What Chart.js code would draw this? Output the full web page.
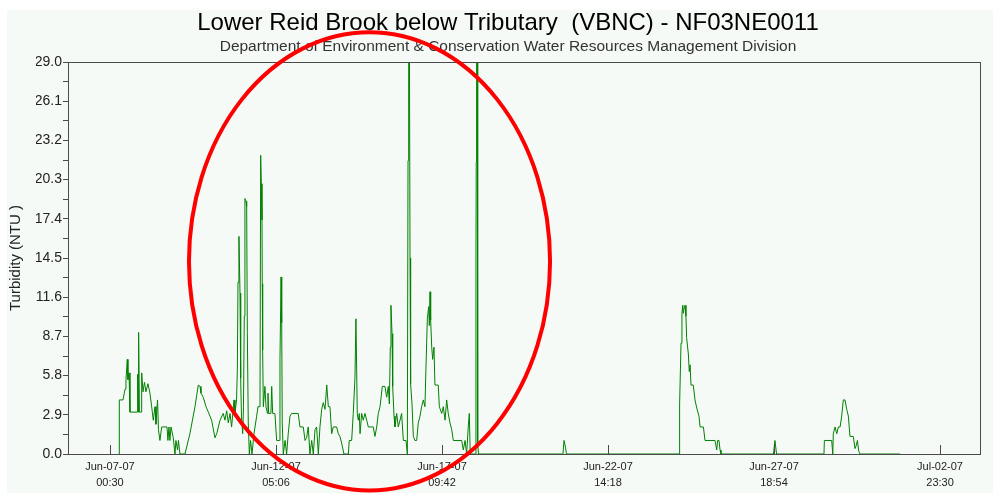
<!DOCTYPE html>
<html>
<head>
<meta charset="utf-8">
<script src="https://cdn.jsdelivr.net/npm/chart.js@4/dist/chart.umd.min.js"></script>
<style>
  html, body { margin: 0; padding: 0; background: #fff; }
  #panel { position: absolute; left: 7px; top: 10px; width: 986px; height: 483px; background: #f5faf6; }
</style>
</head>
<body>
<div id="panel"><canvas id="turbChart"></canvas></div>
<script>
// hours since Jun-07-07 00:30
const hours = [
  6.8, 7.0, 9.8, 11.3, 12.0, 13.0, 13.5, 14.3, 15.0, 20.5,
  20.8, 21.2, 21.5, 22.1, 23.3, 23.8, 24.8, 25.9, 27.0, 28.5,
  30.0, 31.3, 32.5, 33.8, 34.5, 35.7, 36.4, 37.5, 38.8, 42.8,
  43.5, 44.3, 45.0, 45.8, 47.5, 48.8, 49.5, 50.7, 51.4, 52.5,
  56.3, 60.0, 63.8, 66.3, 67.6, 68.3, 70.0, 72.1, 73.8, 76.3,
  78.8, 80.1, 82.6, 85.0, 86.3, 87.6, 88.8, 90.1, 91.3, 93.1,
  93.8, 95.0, 95.6, 96.1, 96.8, 97.6, 98.1, 98.7, 99.6, 100.2,
  100.8, 101.3, 102.1, 102.6, 103.1, 103.8, 104.6, 105.5, 106.6, 108.1,
  110.1, 111.1, 112.6, 113.1, 113.6, 114.1, 114.3, 114.6, 115.1, 116.3,
  117.1, 118.2, 118.6, 119.1, 120.8, 121.4, 122.1, 123.8, 125.1, 127.1,
  127.6, 128.4, 128.9, 129.3, 130.1, 131.4, 132.6, 133.8, 135.1, 136.4,
  141.3, 142.6, 145.1, 146.4, 147.6, 148.8, 150.1, 151.4, 152.6, 153.9,
  155.1, 156.4, 157.6, 158.9, 160.1, 161.4, 162.7, 163.9, 165.1, 166.4,
  167.6, 170.1, 171.4, 172.6, 173.9, 175.6, 178.9, 179.6, 181.4, 182.6,
  183.9, 184.6, 185.2, 185.6, 186.4, 187.1, 187.7, 188.9, 190.1, 191.4,
  192.7, 193.9, 197.6, 198.9, 200.2, 201.4, 202.7, 204.4, 206.4, 207.7,
  208.9, 209.7, 210.4, 210.9, 211.7, 212.2, 213.2, 213.9, 215.2, 216.4,
  217.7, 218.9, 220.2, 222.2, 223.2, 223.7, 224.2, 224.8, 225.2, 225.4,
  225.9, 226.7, 227.7, 228.9, 230.2, 231.4, 232.7, 233.9, 235.2, 236.4,
  237.2, 238.2, 239.2, 239.7, 240.2, 240.7, 241.5, 242.2, 243.2, 243.9,
  246.4, 247.2, 249.0, 250.2, 251.5, 252.7, 253.9, 255.2, 256.5, 257.7,
  264.0, 265.2, 266.5, 267.7, 268.9, 269.7, 270.4, 274.5, 274.7, 274.9,
  275.2, 275.7, 276.0, 276.6, 340.0, 340.8, 341.9, 342.6, 427.1, 427.3,
  427.8, 428.6, 429.3, 429.9, 430.3, 431.1, 431.6, 432.3, 432.8, 434.1,
  434.8, 435.4, 436.1, 437.8, 439.1, 440.4, 442.1, 442.9, 445.4, 446.6,
  454.1, 455.4, 456.1, 457.1, 457.9, 458.6, 498.0, 499.1, 500.3, 535.9,
  536.2, 541.7, 542.5, 542.9, 544.2, 545.5, 546.7, 548.0, 549.2, 550.4,
  551.7, 553.0, 554.2, 555.4, 557.9, 559.2, 560.0, 561.0, 562.0, 563.0,
  593.0
];

const turbidity = [
  0, 4.0, 4.0, 4.8, 5.5, 7.0, 5.5, 6.0, 3.1, 3.1,
  5.9, 3.1, 9.0, 3.1, 3.1, 6.0, 4.6, 5.3, 4.6, 5.2,
  4.5, 3.5, 2.5, 3.5, 2.2, 4.0, 1.8, 1.0, 2.0, 2.0,
  1.0, 2.0, 1.0, 2.0, 1.2, 0, 1.0, 0.3, 1.0, 0,
  0, 1.5, 3.5, 5.1, 5.0, 4.5, 4.2, 3.5, 3.1, 2.5,
  1.2, 1.5, 2.5, 3.0, 2.5, 3.2, 2.3, 3.0, 2.0, 4.0,
  3.0, 4.0, 6.2, 12.7, 16.1, 11.9, 5.6, 2.8, 1.5, 3.5,
  10.2, 18.9, 18.7, 18.3, 9.0, 2.3, 0, 1.0, 0, 1.5,
  2.8, 3.5, 3.5, 22.1, 20.0, 17.3, 12.6, 7.7, 3.5, 5.0,
  3.5, 3.0, 4.5, 3.0, 3.0, 5.0, 3.0, 3.0, 1.0, 1.0,
  7.0, 13.1, 9.7, 2.3, 0, 1.0, 0, 1.5, 2.8, 3.0,
  3.0, 2.0, 2.0, 1.0, 1.2, 2.0, 0, 1.0, 0, 1.8,
  2.0, 0, 2.0, 3.3, 3.8, 3.3, 5.1, 3.5, 3.5, 1.5,
  2.0, 2.0, 1.5, 1.3, 0.8, 0, 0, 1.0, 1.0, 3.0,
  5.7, 10.0, 6.0, 3.0, 2.5, 3.0, 1.5, 3.0, 2.5, 3.0,
  2.5, 2.0, 2.0, 1.3, 2.0, 3.0, 3.5, 5.0, 5.0, 4.2,
  5.0, 3.7, 7.9, 11.0, 8.9, 5.0, 2.8, 2.0, 3.0, 2.0,
  2.5, 3.0, 1.0, 1.0, 0, 21.7, 29.0, 29.0, 14.5, 7.0,
  5.2, 3.7, 1.3, 1.0, 1.0, 2.3, 2.8, 3.5, 4.0, 3.5,
  6.5, 10.0, 10.9, 9.5, 12.0, 9.9, 7.9, 7.0, 7.9, 5.1,
  5.1, 3.5, 3.0, 3.5, 2.5, 4.0, 3.0, 2.3, 1.8, 1.0,
  1.0, 0.3, 1.0, 0, 2.0, 3.0, 0, 0, 14.5, 21.6,
  29.0, 29.0, 0.8, 0, 0, 1.0, 0.5, 0, 0, 1.3,
  3.7, 8.2, 10.4, 11.0, 10.4, 10.9, 11.0, 10.2, 8.6, 7.4,
  6.1, 6.6, 5.1, 5.1, 4.0, 3.4, 2.8, 2.0, 2.0, 1.0,
  1.0, 0.3, 1.0, 1.0, 0.3, 0, 0, 1.0, 0, 0,
  1.0, 1.0, 0, 1.5, 2.0, 1.5, 2.0, 2.0, 2.8, 4.0,
  4.0, 3.3, 2.8, 1.3, 1.3, 0.4, 0.6, 1.0, 0.2, 0,
  0
];

const xTickHours = [0, 124.6, 249.2, 373.8, 498.4, 623.0];
const xTickDates = ['Jun-07-07', 'Jun-12-07', 'Jun-17-07', 'Jun-22-07', 'Jun-27-07', 'Jul-02-07'];
const xTickTimes = ['00:30', '05:06', '09:42', '14:18', '18:54', '23:30'];
const yTicks = [0, 2.9, 5.8, 8.7, 11.6, 14.5, 17.4, 20.3, 23.2, 26.1, 29.0];

// red highlight ring, in axis units
const ringHours = [59.3, 330.3];
const ringTurbidity = [-2.7, 31.2];

Chart.defaults.font.family = "'Liberation Sans', Arial, sans-serif";

// y ticks with a minor tick halfway between each labelled one
const yTickValues = [];
yTicks.forEach((v, i) => {
  yTickValues.push(v);
  if (i < yTicks.length - 1) yTickValues.push((v + yTicks[i + 1]) / 2);
});

const framePlugin = {
  id: 'frame',
  afterDatasetsDraw(chart) {
    const { ctx, chartArea: a, scales: { x } } = chart;
    ctx.save();
    ctx.strokeStyle = '#4a4a4a';
    ctx.lineWidth = 1;
    ctx.strokeRect(Math.round(a.left) + 0.5, Math.round(a.top) + 0.5,
      Math.round(a.right - a.left), Math.round(a.bottom - a.top));
    // x ticks point into the plot
    ctx.beginPath();
    xTickHours.forEach(h => {
      const px = Math.round(x.getPixelForValue(h)) + 0.5;
      ctx.moveTo(px, a.bottom);
      ctx.lineTo(px, a.bottom - 9);
    });
    ctx.stroke();
    ctx.restore();
  },
  afterDraw(chart) {
    const { ctx, scales: { x, y } } = chart;
    const x0 = x.getPixelForValue(ringHours[0]);
    const x1 = x.getPixelForValue(ringHours[1]);
    const y0 = y.getPixelForValue(ringTurbidity[1]);
    const y1 = y.getPixelForValue(ringTurbidity[0]);
    ctx.save();
    ctx.strokeStyle = '#ff0000';
    ctx.lineWidth = 4;
    ctx.beginPath();
    ctx.ellipse((x0 + x1) / 2, (y0 + y1) / 2, (x1 - x0) / 2, (y1 - y0) / 2, 0, 0, Math.PI * 2);
    ctx.stroke();
    ctx.restore();
  }
};

new Chart(document.getElementById('turbChart'), {
  type: 'line',
  data: {
    datasets: [{
      label: 'Turbidity',
      data: hours.map((h, i) => ({ x: h, y: turbidity[i] })),
      borderColor: '#008000',
      borderWidth: 1,
      pointRadius: 0,
      tension: 0,
      fill: false,
    }]
  },
  options: {
    responsive: true,
    maintainAspectRatio: false,
    animation: false,
    // left padding shifts the centred titles; y axis is narrowed to keep the plot edge
    layout: { padding: { left: 29, right: 13, top: 0, bottom: 0 } },
    plugins: {
      legend: { display: false },
      tooltip: { enabled: false },
      title: {
        display: true,
        text: 'Lower Reid Brook below Tributary  (VBNC) - NF03NE0011',
        color: '#000',
        font: { size: 24, weight: 'normal', lineHeight: 1.1 },
        padding: { top: 0, bottom: 0 },
      },
      subtitle: {
        display: true,
        text: 'Department of Environment & Conservation Water Resources Management Division',
        color: '#333',
        font: { size: 15.5, weight: 'normal', lineHeight: 1.2 },
        padding: { top: 1, bottom: 6 },
      },
    },
    scales: {
      x: {
        type: 'linear',
        min: -31.5,
        max: 653.0,
        afterFit: (s) => { s.height = 39; },
        afterBuildTicks: (s) => { s.ticks = xTickHours.map(v => ({ value: v })); },
        grid: { display: false, drawTicks: false },
        border: { display: false },
        ticks: {
          color: '#222',
          font: { size: 11, lineHeight: '16px' },
          padding: 5,
          maxRotation: 0,
          autoSkip: false,
          callback: (v, i) => [xTickDates[i], xTickTimes[i]],
        },
      },
      y: {
        min: 0,
        max: 29,
        afterFit: (s) => { s.width = 32; },
        afterBuildTicks: (s) => { s.ticks = yTickValues.map(v => ({ value: v })); },
        grid: { drawOnChartArea: false, drawTicks: true, tickLength: 5, color: '#4a4a4a' },
        border: { display: false },
        title: {
          display: true,
          text: 'Turbidity (NTU )',
          color: '#222',
          font: { size: 15 },
          padding: { top: -29, bottom: 0 },
        },
        ticks: {
          color: '#222',
          font: { size: 14 },
          padding: 1,
          autoSkip: false,
          callback: (v, i) => (i % 2 === 0 ? yTicks[i / 2].toFixed(1) : ''),
        },
      },
    },
  },
  plugins: [framePlugin],
});
</script>
</body>
</html>
